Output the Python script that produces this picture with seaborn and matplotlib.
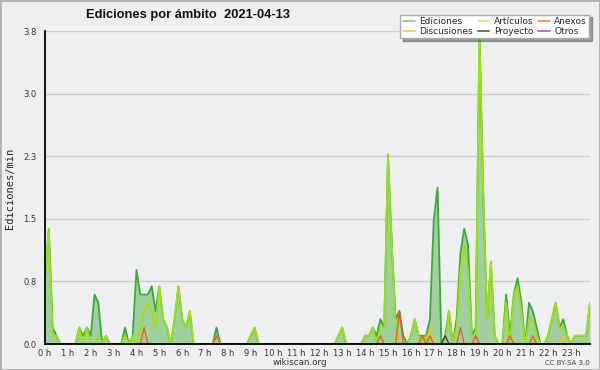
import numpy as np
import pandas as pd
import seaborn as sns
import matplotlib.pyplot as plt
from matplotlib.lines import Line2D
from matplotlib.patches import Rectangle

# edits per minute, one value per 10-minute slot (144 slots)
ediciones = [
    0.8, 1.4, 0.2, 0.1, 0.0, 0.0, 0.0, 0.0, 0.0, 0.2, 0.1, 0.2, 0.1, 0.6, 0.5, 0.0, 0.1, 0.0, 0.0, 0.0, 0.0, 0.2, 0.0, 0.1,
    0.9, 0.6, 0.6, 0.6, 0.7, 0.4, 0.7, 0.3, 0.2, 0.0, 0.3, 0.7, 0.3, 0.2, 0.4, 0.0, 0.0, 0.0, 0.0, 0.0, 0.0, 0.2, 0.0, 0.0,
    0.0, 0.0, 0.0, 0.0, 0.0, 0.0, 0.1, 0.2, 0.0, 0.0, 0.0, 0.0, 0.0, 0.0, 0.0, 0.0, 0.0, 0.0, 0.0, 0.0, 0.0, 0.0, 0.0, 0.0,
    0.0, 0.0, 0.0, 0.0, 0.0, 0.1, 0.2, 0.0, 0.0, 0.0, 0.0, 0.0, 0.1, 0.1, 0.2, 0.1, 0.3, 0.2, 2.3, 1.2, 0.3, 0.4, 0.1, 0.0,
    0.1, 0.3, 0.1, 0.1, 0.1, 0.3, 1.5, 1.9, 0.0, 0.1, 0.4, 0.0, 0.3, 1.1, 1.4, 1.2, 0.1, 0.2, 3.8, 1.8, 0.3, 1.0, 0.1, 0.0,
    0.0, 0.6, 0.1, 0.6, 0.8, 0.5, 0.0, 0.5, 0.4, 0.2, 0.0, 0.0, 0.1, 0.3, 0.5, 0.2, 0.3, 0.1, 0.0, 0.1, 0.1, 0.1, 0.1, 0.5,
]
articulos = [
    0.8, 1.4, 0.1, 0.1, 0.0, 0.0, 0.0, 0.0, 0.0, 0.2, 0.0, 0.2, 0.0, 0.0, 0.1, 0.0, 0.1, 0.0, 0.0, 0.0, 0.0, 0.1, 0.0, 0.1,
    0.0, 0.2, 0.4, 0.5, 0.4, 0.2, 0.7, 0.3, 0.2, 0.0, 0.3, 0.7, 0.3, 0.2, 0.4, 0.0, 0.0, 0.0, 0.0, 0.0, 0.0, 0.1, 0.0, 0.0,
    0.0, 0.0, 0.0, 0.0, 0.0, 0.0, 0.1, 0.2, 0.0, 0.0, 0.0, 0.0, 0.0, 0.0, 0.0, 0.0, 0.0, 0.0, 0.0, 0.0, 0.0, 0.0, 0.0, 0.0,
    0.0, 0.0, 0.0, 0.0, 0.0, 0.1, 0.2, 0.0, 0.0, 0.0, 0.0, 0.0, 0.1, 0.1, 0.2, 0.0, 0.2, 0.2, 2.3, 1.2, 0.2, 0.0, 0.0, 0.0,
    0.1, 0.3, 0.1, 0.0, 0.1, 0.0, 0.0, 0.0, 0.0, 0.0, 0.4, 0.0, 0.2, 0.9, 1.2, 0.9, 0.1, 0.1, 3.8, 1.8, 0.3, 1.0, 0.1, 0.0,
    0.0, 0.5, 0.0, 0.6, 0.7, 0.4, 0.0, 0.3, 0.3, 0.1, 0.0, 0.0, 0.1, 0.3, 0.5, 0.2, 0.2, 0.1, 0.0, 0.1, 0.1, 0.1, 0.1, 0.5,
]
# the small series are only non-zero in a few slots
anexos_pos = [26, 45, 88, 93, 99, 101, 109, 113, 122, 128]
anexos_val = [0.2, 0.1, 0.1, 0.4, 0.1, 0.1, 0.2, 0.1, 0.1, 0.1]
discusiones_pos = [101, 136]
discusiones_val = [0.2, 0.1]
proyecto_pos = [105]
proyecto_val = [0.1]
hour_labels = [f"{h} h" for h in range(24)]

slots = np.arange(len(ediciones))


def sparse(pos, val):
    s = np.zeros(len(slots))
    s[pos] = val
    return s


df = pd.DataFrame({
    "slot": slots,
    "Ediciones": ediciones,
    "Artículos": articulos,
    "Anexos": sparse(anexos_pos, anexos_val),
    "Discusiones": sparse(discusiones_pos, discusiones_val),
    "Proyecto": sparse(proyecto_pos, proyecto_val),
    "Otros": np.zeros(len(slots)),
})

colors = {"Ediciones": "#3aa83a", "Artículos": "#9ee010", "Anexos": "#f05a1a",
          "Discusiones": "#f0c020", "Proyecto": "#444444", "Otros": "#9040e0"}
legend_colors = {"Ediciones": "#88cc88", "Artículos": "#ccee66", "Anexos": "#ee8855",
                 "Discusiones": "#eecc44", "Proyecto": "#555555", "Otros": "#9955ee"}

sns.set_style("white")
plt.rcParams["font.family"] = ["DejaVu Sans"]

fig = plt.figure(figsize=(6, 3.7), dpi=100, facecolor="#efefef")
ax = fig.add_axes([45 / 600, 26 / 370, 545 / 600, 313 / 370])
ax.set_facecolor("#eeeff1")

ax.fill_between(df["slot"], df["Ediciones"], color="#a0cfa0", lw=0, zorder=1.5)
for name, lw in [("Ediciones", 1.3), ("Artículos", 1.3), ("Otros", 1.0),
                 ("Proyecto", 1.0), ("Discusiones", 1.0), ("Anexos", 1.0)]:
    sns.lineplot(data=df, x="slot", y=name, ax=ax, color=colors[name], lw=lw, legend=False)

ax.set_xlim(0, 143)
ax.set_ylim(0, 3.8)
ax.set_xlabel("")
ax.set_ylabel("")

yt = np.linspace(0, 3.8, 6)
ax.set_yticks(yt)
ax.set_yticklabels([f"{v:.1f}" for v in yt])
ax.set_yticks(yt[:-1] + 0.38, minor=True)
ax.set_xticks(range(0, 144, 6))
ax.set_xticklabels(hour_labels)
ax.set_xticks(range(144), minor=True)

ax.grid(axis="y", color="#cccccc", lw=1)
ax.set_axisbelow(True)
for s in ["top", "right"]:
    ax.spines[s].set_visible(False)
for s in ["left", "bottom"]:
    ax.spines[s].set_color("black")
    ax.spines[s].set_linewidth(1.3)
    ax.spines[s].set_zorder(5)

ax.tick_params(axis="both", which="both", direction="out", color="black",
               labelsize=6, labelcolor="#333333", pad=1)
ax.tick_params(axis="x", which="both", length=3, width=1, pad=0.5)
ax.tick_params(axis="y", which="major", length=5, width=1)
ax.tick_params(axis="y", which="minor", length=4, width=1)

order = ["Ediciones", "Discusiones", "Artículos", "Proyecto", "Anexos", "Otros"]
handles = [Line2D([], [], color=legend_colors[n], lw=1.2) for n in order]
fig.legend(handles, order, ncol=3, loc="upper right", bbox_to_anchor=(594 / 600, 1 - 10 / 370),
           fontsize=6.5, frameon=True, fancybox=False, shadow=True, edgecolor="#aaaaaa",
           framealpha=1, borderpad=0.3, handlelength=1.3, columnspacing=0.5,
           labelspacing=0.05, handletextpad=0.5)

fig.text(0.314, 0.959, "Ediciones por ámbito  2021-04-13", ha="center", va="center",
         fontsize=9.3, fontweight="bold", family="Liberation Sans", color="#111111")
fig.text(0.016, 0.492, "Ediciones/min", rotation=90, ha="center", va="center",
         fontsize=7.5, family="DejaVu Sans Mono", color="#222222")
fig.text(0.5, 0.021, "wikiscan.org", ha="center", va="center", fontsize=6.3, color="#333333")
fig.text(0.983, 0.02, "CC BY-SA 3.0", ha="right", va="center", fontsize=5, color="#444444")
fig.add_artist(Rectangle((0, 0), 1, 1, transform=fig.transFigure, fill=False,
                         edgecolor="#b0b0b0", lw=2))

fig.savefig("out.png", dpi=100, facecolor=fig.get_facecolor())
